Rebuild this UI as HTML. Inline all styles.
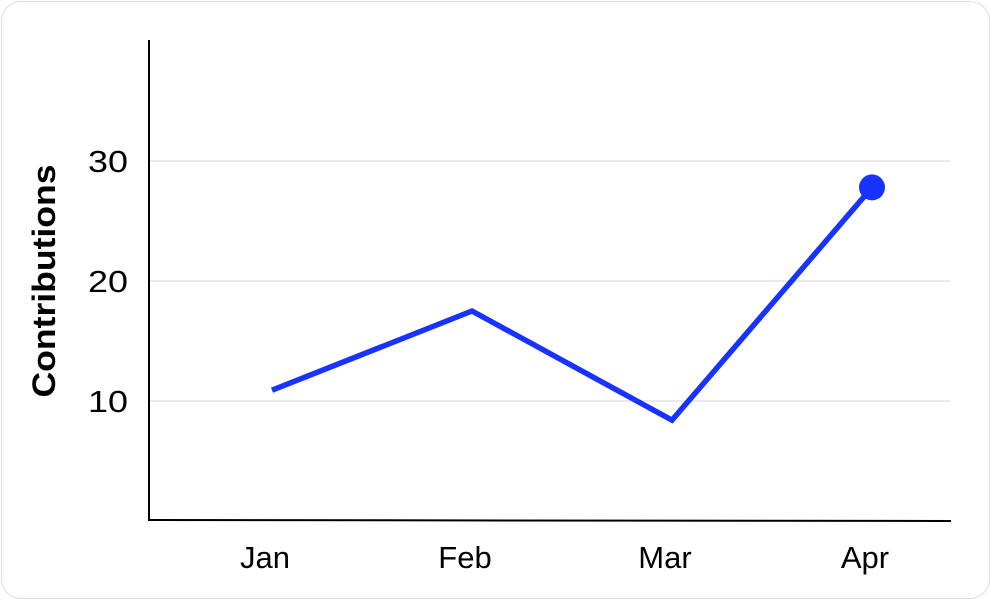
<!DOCTYPE html>
<html><head><meta charset="utf-8"><style>
html,body{margin:0;padding:0;background:#fff;}
#card{position:absolute;left:1px;top:1px;width:989px;height:598px;border:1px solid #ddd;border-radius:20px;box-sizing:border-box;}
svg{position:absolute;left:0;top:0;}
text{font-family:"Liberation Sans",Arial,sans-serif;}
</style></head><body>
<div id="card"></div>
<svg id="chart" width="993" height="602"></svg>
<script>
const categories=["Jan","Feb","Mar","Apr"];
const values=[10.9,17.5,8.4,27.8];
const yTicks=[10,20,30];
const yTitle="Contributions";
const NS="http://www.w3.org/2000/svg";
const svg=document.getElementById('chart');
function y(v){return 521-v*12;}
function x(i){return 272+i*200;}
function mk(t,a){const e=document.createElementNS(NS,t);for(const k in a)e.setAttribute(k,a[k]);svg.appendChild(e);return e;}
yTicks.forEach(t=>{
  const g=mk('line',{x1:149,x2:951,y1:y(t),y2:y(t),stroke:'#e3e3e3','stroke-width':1.5});
  
  
  const l=mk('text',{x:128,y:y(t)+11,'text-anchor':'end','font-size':31,fill:'#000',textLength:40,lengthAdjust:'spacingAndGlyphs'});
  l.textContent=t;
  
  
});
const ya=mk('line',{x1:149,x2:149,y1:40,y2:521,stroke:'#000','stroke-width':2});


const xa=mk('line',{x1:148,x2:951,y1:520,y2:521,stroke:'#000','stroke-width':2});


categories.forEach((c,i)=>{
  const l=mk('text',{x:x(i)-7,y:568,'text-anchor':'middle','font-size':31,fill:'#000'});
  l.textContent=c;
  
  
});
const tt=mk('text',{x:0,y:0,'text-anchor':'middle','font-size':32,'font-weight':'bold',fill:'#000',textLength:233,lengthAdjust:'spacingAndGlyphs',transform:'translate(55,281) rotate(-90)'});
tt.textContent=yTitle;


const pts=values.map((v,i)=>x(i)+','+y(v)).join(' ');
const pl=mk('polyline',{points:pts,fill:'none',stroke:'#1833ff','stroke-width':5.5});


const last=values.length-1;
const dot=mk('circle',{cx:x(last),cy:y(values[last]),r:13,fill:'#1833ff'});


</script>
</body></html>
